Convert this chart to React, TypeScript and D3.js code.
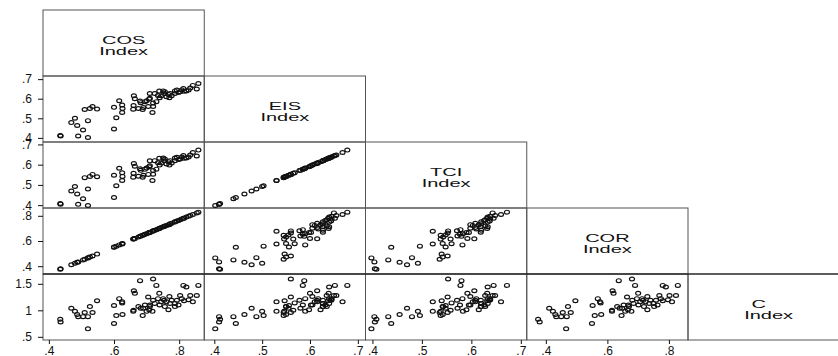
import { useEffect, useRef } from "react";
import * as d3 from "d3";

const varNames = ["COS", "EIS", "TCI", "COR", "C"];

const cos = [
  0.435, 0.436, 0.469, 0.48, 0.487, 0.49, 0.505, 0.52, 0.52, 0.51,
  0.526, 0.534, 0.548, 0.6, 0.616, 0.625, 0.626, 0.625, 0.607, 0.6,
  0.661, 0.664, 0.68, 0.659, 0.675, 0.688, 0.682, 0.695, 0.708, 0.71,
  0.725, 0.739, 0.754, 0.751, 0.72, 0.718, 0.705, 0.71, 0.73, 0.74,
  0.761, 0.777, 0.772, 0.787, 0.793, 0.803, 0.813, 0.822, 0.834, 0.842,
  0.859, 0.854, 0.829, 0.808, 0.767, 0.72, 0.69, 0.735, 0.787, 0.756,
  0.745, 0.798, 0.7, 0.66, 0.77, 0.815,
];
const eis = [
  0.412, 0.41, 0.478, 0.5, 0.463, 0.41, 0.44, 0.402, 0.488, 0.545,
  0.55, 0.56, 0.547, 0.556, 0.59, 0.568, 0.55, 0.53, 0.503, 0.445,
  0.615, 0.6, 0.588, 0.546, 0.55, 0.545, 0.58, 0.585, 0.598, 0.627,
  0.627, 0.639, 0.627, 0.64, 0.56, 0.53, 0.56, 0.602, 0.585, 0.605,
  0.61, 0.615, 0.627, 0.627, 0.644, 0.635, 0.652, 0.64, 0.655, 0.668,
  0.678, 0.65, 0.645, 0.645, 0.622, 0.578, 0.555, 0.617, 0.64, 0.635,
  0.615, 0.632, 0.59, 0.565, 0.605, 0.638,
];
const tci = [
  0.408, 0.405, 0.47, 0.492, 0.455, 0.404, 0.432, 0.398, 0.48, 0.536,
  0.542, 0.552, 0.54, 0.548, 0.582, 0.56, 0.542, 0.522, 0.496, 0.438,
  0.606, 0.592, 0.58, 0.538, 0.543, 0.538, 0.572, 0.577, 0.59, 0.619,
  0.62, 0.632, 0.619, 0.633, 0.553, 0.522, 0.552, 0.595, 0.578, 0.598,
  0.603, 0.608, 0.62, 0.62, 0.637, 0.628, 0.645, 0.633, 0.648, 0.66,
  0.672, 0.643, 0.638, 0.638, 0.615, 0.571, 0.548, 0.61, 0.633, 0.628,
  0.608, 0.626, 0.583, 0.558, 0.598, 0.632,
];
const cor = [
  0.375, 0.38, 0.411, 0.423, 0.431, 0.434, 0.45, 0.466, 0.468, 0.455,
  0.472, 0.481, 0.496, 0.552, 0.569, 0.578, 0.58, 0.576, 0.559, 0.55,
  0.617, 0.62, 0.637, 0.615, 0.632, 0.646, 0.64, 0.653, 0.667, 0.67,
  0.685, 0.7, 0.716, 0.713, 0.68, 0.678, 0.664, 0.668, 0.69, 0.701,
  0.724, 0.74, 0.736, 0.752, 0.758, 0.769, 0.78, 0.79, 0.802, 0.81,
  0.829, 0.823, 0.797, 0.774, 0.73, 0.681, 0.648, 0.696, 0.75, 0.719,
  0.707, 0.763, 0.658, 0.615, 0.73, 0.78,
];
const cIndex = [
  0.83, 0.78, 1.04, 0.98, 0.92, 0.88, 0.88, 0.65, 0.88, 0.96,
  1.07, 0.96, 1.18, 1.09, 1.22, 1.14, 0.92, 1.16, 0.9, 0.75,
  1.37, 1.32, 1.56, 0.98, 1.07, 0.9, 1.04, 1.1, 1.01, 1.07,
  1.13, 1.32, 1.19, 1.22, 1.59, 0.98, 1.25, 1.1, 1.47, 1.1,
  1.16, 1.19, 1.13, 1.07, 1.19, 1.28, 1.47, 1.44, 1.28, 1.16,
  1.47, 1.28, 1.2, 1.22, 1.01, 1.19, 1.04, 1.22, 1.13, 1.07,
  1.16, 1.1, 0.98, 1.0, 1.26, 1.18,
];

const cosTicks = [0.4, 0.6, 0.8];
const eisTicks = [0.4, 0.5, 0.6, 0.7];
const tciTicks = [0.4, 0.5, 0.6, 0.7];
const corTicks = [0.4, 0.6, 0.8];
const cTicks = [0.5, 1, 1.5];

const domains: [number, number][] = [
  [0.382, 0.877],
  [0.379, 0.716],
  [0.386, 0.712],
  [0.338, 0.862],
  [0.44, 1.685],
];

export default function App() {
  const svgRef = useRef<SVGSVGElement | null>(null);

  useEffect(() => {
    if (!svgRef.current) return;

    const width = 838;
    const left = 43;
    const top = 10;
    const cw = 161.25;
    const ch = 66;
    const n = varNames.length;
    const font = "'Liberation Sans', Arial, sans-serif";

    const series = [cos, eis, tci, cor, cIndex];
    const tickSets = [cosTicks, eisTicks, tciTicks, corTicks, cTicks];

    const svg = d3.select(svgRef.current);
    svg.selectAll("*").remove();

    const fmt = (d: number) =>
      d < 1 ? d3.format(".1f")(d).replace(/^0/, "") : String(d);

    const xScales = series.map((_, j) =>
      d3.scaleLinear().domain(domains[j]).range([left + j * cw, left + (j + 1) * cw])
    );
    const yScales = series.map((_, i) =>
      d3.scaleLinear().domain(domains[i]).range([top + (i + 1) * ch, top + i * ch])
    );

    // cell frames (lower triangle + diagonal)
    const frames = svg.append("g");
    for (let i = 0; i < n; i++) {
      for (let j = 0; j <= i; j++) {
        frames
          .append("rect")
          .attr("x", left + j * cw)
          .attr("y", top + i * ch)
          .attr("width", cw)
          .attr("height", ch)
          .attr("fill", "none")
          .attr("stroke", "#555")
          .attr("stroke-width", 1);
      }
    }

    // diagonal labels (source image is squashed vertically)
    for (let i = 0; i < n; i++) {
      const cx = left + (i + 0.5) * cw;
      const cy = top + (i + 0.5) * ch;
      const t = svg
        .append("text")
        .attr("transform", `translate(${cx},${cy}) scale(1,0.58)`)
        .attr("text-anchor", "middle")
        .attr("font-family", font)
        .attr("font-size", 20)
        .attr("fill", "#111");
      t.append("tspan")
        .attr("x", 0)
        .attr("dx", i === n - 1 ? -10 : 0)
        .attr("y", 1)
        .text(varNames[i]);
      t.append("tspan").attr("x", 0).attr("y", 20.5).text("Index");
    }

    // scatter cells
    const pts = svg.append("g");
    for (let i = 1; i < n; i++) {
      for (let j = 0; j < i; j++) {
        const xs = series[j];
        const ys = series[i];
        pts
          .append("g")
          .selectAll("ellipse")
          .data(d3.range(xs.length))
          .join("ellipse")
          .attr("cx", (k) => xScales[j](xs[k]))
          .attr("cy", (k) => yScales[i](ys[k]))
          .attr("rx", 2.5)
          .attr("ry", 1.9)
          .attr("fill", "none")
          .attr("stroke", "#111")
          .attr("stroke-width", 1.2);
      }
    }

    // left axes
    for (let i = 1; i < n; i++) {
      const g = svg
        .append("g")
        .attr("transform", `translate(${left},0)`)
        .call(
          d3
            .axisLeft(yScales[i])
            .tickValues(tickSets[i])
            .tickSize(5)
            .tickPadding(6)
            .tickFormat(fmt as any)
        );
      g.select(".domain").remove();
      g.selectAll("text").attr("font-family", font).attr("font-size", 12).attr("fill", "#111");
      g.selectAll("line").attr("stroke", "#111");
    }

    // bottom axes
    for (let j = 0; j < n - 1; j++) {
      const g = svg
        .append("g")
        .attr("transform", `translate(0,${top + n * ch})`)
        .call(
          d3
            .axisBottom(xScales[j])
            .tickValues(tickSets[j])
            .tickSize(4)
            .tickPadding(2)
            .tickFormat(fmt as any)
        );
      g.select(".domain").remove();
      g.selectAll("text").attr("font-family", font).attr("font-size", 12).attr("fill", "#111");
      g.selectAll("line").attr("stroke", "#111");
    }

    // last row separator runs to the edge
    svg
      .append("line")
      .attr("x1", left)
      .attr("x2", width)
      .attr("y1", top + 4 * ch)
      .attr("y2", top + 4 * ch)
      .attr("stroke", "#111")
      .attr("stroke-width", 1);
  }, []);

  return (
    <div style={{ position: "absolute", left: 0, top: 0 }}>
      <svg ref={svgRef} width={838} height={356} style={{ display: "block", background: "#fff" }} />
    </div>
  );
}
